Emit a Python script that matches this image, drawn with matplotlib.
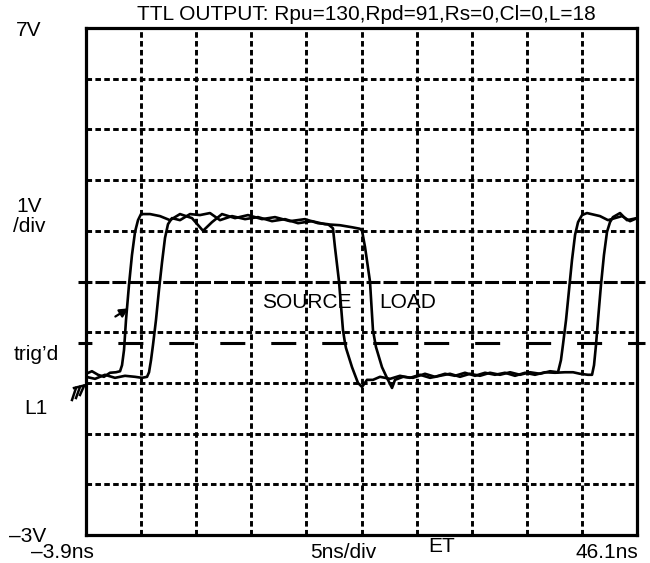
import matplotlib
matplotlib.use('Agg')
import matplotlib.pyplot as plt
from matplotlib.lines import Line2D

plt.rcParams['font.family'] = ['Liberation Sans', 'DejaVu Sans']
plt.rcParams['lines.scale_dashes'] = False

# 스코프 설정
t_min, t_max = -3.9, 46.1   # ns
v_min, v_max = -3.0, 7.0    # V
trig_level = 0.79
center_level = 2.0

# SOURCE 파형 (ns, V)
source_t = [-3.90, -3.36, -2.81, -2.27, -1.72, -1.18, -0.81, -0.63, -0.45, -0.27,
            0.00, 0.27, 0.55, 0.82, 1.09, 1.91, 2.81, 3.72, 4.63, 5.72,
            6.72, 7.53, 8.44, 9.62, 10.80, 12.07, 13.25, 14.61, 15.97, 17.15,
            18.06, 18.51, 18.69, 19.06, 19.42, 19.60, 19.69, 20.24, 20.78, 21.15,
            21.60, 22.14, 22.78, 23.69, 24.59, 25.50, 26.41, 27.32, 28.22, 29.13,
            30.04, 30.95, 31.85, 32.76, 33.67, 34.58, 35.48, 36.39, 37.30, 38.21,
            38.93, 39.20, 39.38, 39.66, 39.93, 40.20, 40.48, 40.75, 41.11, 41.56,
            42.74, 43.47, 44.10, 44.74, 45.47, 46.10]
source_v = [0.18, 0.23, 0.16, 0.12, 0.20, 0.21, 0.23, 0.35, 0.65, 1.24,
            1.93, 2.52, 2.98, 3.21, 3.33, 3.33, 3.29, 3.21, 3.33, 3.25,
            3.00, 3.17, 3.33, 3.25, 3.31, 3.23, 3.27, 3.19, 3.23, 3.15,
            3.13, 3.05, 2.68, 2.00, 1.04, 0.79, 0.69, 0.31, 0.00, -0.08,
            0.06, 0.06, 0.12, 0.08, 0.14, 0.10, 0.16, 0.10, 0.14, 0.18,
            0.12, 0.18, 0.14, 0.20, 0.16, 0.21, 0.16, 0.21, 0.18, 0.23,
            0.21, 0.45, 0.75, 1.24, 1.83, 2.42, 2.92, 3.17, 3.31, 3.35,
            3.29, 3.21, 3.25, 3.29, 3.19, 3.25]

# LOAD 파형 (ns, V)
load_t = [-3.90, -3.08, -2.18, -1.27, -0.36, 0.55, 1.18, 1.64, 1.82, 2.00,
          2.18, 2.45, 2.72, 3.00, 3.27, 3.54, 3.90, 4.63, 5.54, 6.44,
          7.35, 8.26, 9.35, 10.53, 11.71, 12.98, 14.16, 15.34, 16.61, 17.79,
          19.15, 20.24, 20.96, 21.15, 21.42, 21.87, 22.14, 22.41, 22.96, 23.41,
          23.87, 24.14, 24.87, 25.77, 26.86, 27.77, 28.68, 29.58, 30.49, 31.40,
          32.31, 33.21, 34.12, 35.03, 35.94, 36.84, 37.75, 38.66, 39.57, 40.30,
          40.93, 41.65, 42.02, 42.20, 42.38, 42.56, 42.83, 43.10, 43.38, 43.65,
          43.92, 44.56, 45.19, 46.10]
load_v = [0.12, 0.08, 0.16, 0.10, 0.14, 0.12, 0.10, 0.12, 0.21, 0.45,
          0.75, 1.24, 1.83, 2.38, 2.86, 3.13, 3.25, 3.21, 3.33, 3.31,
          3.35, 3.21, 3.29, 3.23, 3.27, 3.19, 3.23, 3.15, 3.19, 3.13,
          3.11, 3.07, 3.04, 3.00, 2.68, 2.00, 1.04, 0.71, 0.31, 0.10,
          -0.10, 0.06, 0.12, 0.10, 0.18, 0.12, 0.18, 0.14, 0.20, 0.14,
          0.20, 0.16, 0.20, 0.14, 0.20, 0.16, 0.21, 0.20, 0.21, 0.21,
          0.18, 0.16, 0.16, 0.35, 0.75, 1.24, 1.93, 2.52, 2.98, 3.17,
          3.27, 3.35, 3.21, 3.25]

W, H = 650, 563
fig = plt.figure(figsize=(W / 100, H / 100), dpi=100)
ax = fig.add_axes([86 / W, 1 - 535 / H, 551 / W, 507 / H])
ax.set_xlim(t_min, t_max)
ax.set_ylim(v_min, v_max)
ax.set_xticks([])
ax.set_yticks([])
for s in ax.spines.values():
    s.set_linewidth(2.3)

# 격자 (10 x 10 div)
grid_kw = dict(color='black', lw=2.1, dashes=(4.0, 2.4), zorder=1)
for k in range(1, 10):
    ax.axvline(t_min + 5 * k, **grid_kw)
    if v_min + k != center_level:
        ax.axhline(v_min + k, **grid_kw)

# 중앙선, 트리거 레벨 (축 밖으로 조금 나감)
ext = 0.75
ax.plot([t_min - ext, t_max + ext], [center_level, center_level], color='black',
        lw=2.2, dashes=(10, 2.2), clip_on=False, zorder=1)
ax.plot([t_min - ext, t_max + ext], [trig_level, trig_level], color='black',
        lw=2.2, linestyle=(8.0, (18.0, 18.7)), clip_on=False, zorder=1)

# 파형
ax.plot(source_t, source_v, color='black', lw=1.9, zorder=3)
ax.plot(load_t, load_v, color='black', lw=1.9, zorder=3)

# 트리거 화살표
ax.annotate('', xy=(0.18, 1.50), xytext=(-1.45, 1.28),
            arrowprops=dict(arrowstyle='-|>', color='black', lw=1.6, mutation_scale=13))

ax.text(16.15, 1.58, 'SOURCE', fontsize=15, ha='center', va='center')
ax.text(25.3, 1.58, 'LOAD', fontsize=15, ha='center', va='center')

# 접지 기호
def px(x, y):
    return x / W, 1 - y / H
gnd = [((74, 388), (86, 385)), ((76, 388), (72, 400)), ((80, 387), (76, 398)), ((84, 386), (80, 395))]
for a, b in gnd:
    (x0, y0), (x1, y1) = px(*a), px(*b)
    fig.add_artist(Line2D([x0, x1], [y0, y1], transform=fig.transFigure, color='black', lw=1.8))

fs = 15
fig.text(366 / W, 1 - 15 / H, 'TTL OUTPUT: Rpu=130,Rpd=91,Rs=0,Cl=0,L=18', fontsize=fs, ha='center', va='center')
fig.text(29 / W, 1 - 30 / H, '7V', fontsize=fs, ha='center', va='center')
fig.text(16 / W, 1 - 207 / H, '1V', fontsize=fs, ha='left', va='center')
fig.text(13 / W, 1 - 226 / H, '/div', fontsize=fs, ha='left', va='center')
fig.text(36 / W, 1 - 355 / H, 'trig\u2019d', fontsize=fs, ha='center', va='center')
fig.text(36 / W, 1 - 408 / H, 'L1', fontsize=fs, ha='center', va='center')
fig.text(28 / W, 1 - 537 / H, '\u20133V', fontsize=fs, ha='center', va='center')
fig.text(62 / W, 1 - 553 / H, '\u20133.9ns', fontsize=fs, ha='center', va='center')
fig.text(343 / W, 1 - 553 / H, '5ns/div', fontsize=fs, ha='center', va='center')
fig.text(442 / W, 1 - 547 / H, 'ET', fontsize=fs, ha='center', va='center')
fig.text(607 / W, 1 - 553 / H, '46.1ns', fontsize=fs, ha='center', va='center')

plt.savefig('out.png', dpi=100)
